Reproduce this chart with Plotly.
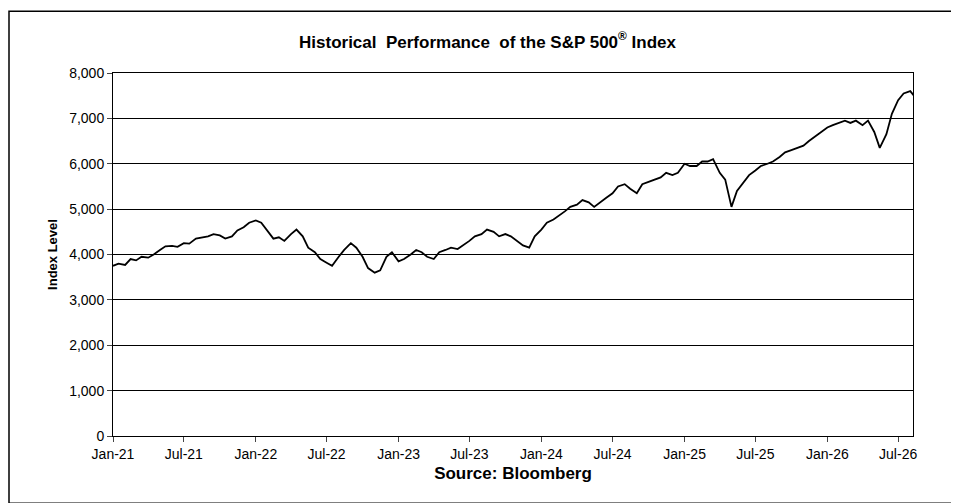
import pandas as pd
import plotly.graph_objects as go

# semi-monthly closes (1st and 15th of each month)
START = "2021-01-01"
LEVELS = [
    3750, 3800, 3770, 3900, 3870, 3950, 3930, 4000, 4100, 4180, 4190, 4170,   # 2021 H1
    4250, 4240, 4350, 4380, 4400, 4450, 4420, 4350, 4400, 4530, 4600, 4700,   # 2021 H2
    4750, 4700, 4500, 4350, 4380, 4300, 4450, 4550, 4400, 4150, 4050, 3900,   # 2022 H1
    3820, 3750, 3950, 4100, 4250, 4150, 3950, 3700, 3600, 3650, 3950, 4050,   # 2022 H2
    3850, 3900, 4000, 4100, 4050, 3950, 3900, 4050, 4100, 4150, 4120, 4200,   # 2023 H1
    4300, 4400, 4450, 4550, 4500, 4400, 4450, 4400, 4300, 4200, 4150, 4400,   # 2023 H2
    4550, 4700, 4770, 4850, 4950, 5050, 5100, 5200, 5150, 5050, 5150, 5250,   # 2024 H1
    5350, 5500, 5550, 5450, 5350, 5550, 5600, 5650, 5700, 5800, 5750, 5800,   # 2024 H2
    6000, 5950, 5950, 6050, 6050, 6100, 5800, 5650, 5050, 5400, 5600, 5750,   # 2025 H1
    5850, 5950, 6000, 6050, 6150, 6250, 6300, 6350, 6400, 6500, 6600, 6700,   # 2025 H2
    6800, 6850, 6900, 6950, 6900, 6950, 6850, 6950, 6700, 6350, 6650, 7100,   # 2026 H1
    7400, 7550, 7600, 7450, 7550, 7450, 7350,                                  # 2026 H2
]
TICK_LABELS = ["Jan-21", "Jul-21", "Jan-22", "Jul-22", "Jan-23", "Jul-23",
               "Jan-24", "Jul-24", "Jan-25", "Jul-25", "Jan-26", "Jul-26"]


def main():
    dates = pd.date_range(START, periods=len(LEVELS) // 2 + 1, freq="MS")
    x = []
    for d in dates:
        x.append(d)
        x.append(d + pd.Timedelta(days=14))
    x = x[: len(LEVELS)]
    tickvals = pd.date_range("2021-01-01", periods=len(TICK_LABELS), freq="6MS")

    font = dict(family="Liberation Sans, Arial", color="black", size=14)
    fig = go.Figure()
    fig.add_trace(go.Scatter(x=x, y=LEVELS, mode="lines",
                             line=dict(color="black", width=1.8)))
    fig.update_layout(
        width=959, height=503, showlegend=False,
        paper_bgcolor="white", plot_bgcolor="white", font=font,
        margin=dict(l=105, r=54, t=65, b=75),
        title=dict(text="<b>Historical  Performance  of the S&P 500<sup>®</sup> Index</b>",
                   x=0.5, xanchor="center", y=0.945, font=dict(size=17)),
        xaxis=dict(range=["2021-01-01", "2026-08-08"], tickvals=tickvals,
                   ticktext=TICK_LABELS, showgrid=False, ticks="outside",
                   ticklen=5, linecolor="black", showline=True, mirror=True,
                   title=dict(text="<b>Source: Bloomberg</b>", standoff=6)),
        yaxis=dict(range=[0, 8000], dtick=1000, tickformat=",",
                   showgrid=True, gridcolor="black", gridwidth=1,
                   ticks="outside", ticklen=5, linecolor="black", showline=True,
                   mirror=True,
                   title=dict(text="<b>Index Level</b>", standoff=8, font=dict(size=13))),
        shapes=[dict(type="rect", xref="paper", yref="paper", x0=-0.13, x1=1.055,
                     y0=-0.185, y1=1.17, line=dict(color="black", width=1.5))],
    )
    fig.write_html("out.html")


if __name__ == "__main__":
    main()
